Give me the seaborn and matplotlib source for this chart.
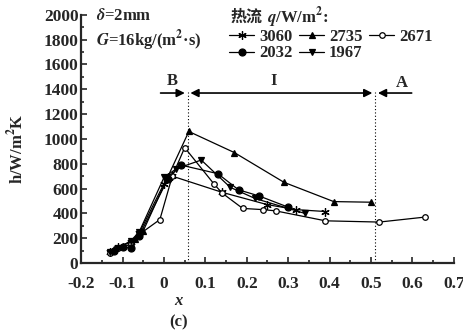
import numpy as np
import pandas as pd
import matplotlib
matplotlib.use("Agg")
import matplotlib.pyplot as plt
import seaborn as sns
from matplotlib.ticker import MultipleLocator

sns.set_style("ticks")
plt.rcParams['font.family'] = ['Liberation Serif', 'Noto Sans CJK SC', 'DejaVu Sans']
plt.rcParams['font.weight'] = 'bold'
plt.rcParams['mathtext.fontset'] = 'stix'

# ---- data ----
x_3060 = [-0.13, -0.11, -0.08, -0.06, 0.00, 0.02, 0.14, 0.25, 0.32, 0.39]
h_3060 = [90, 130, 170, 240, 640, 700, 570, 470, 430, 415]

x_2735 = [-0.12, -0.10, -0.07, -0.05, 0.01, 0.06, 0.17, 0.29, 0.41, 0.50]
h_2735 = [110, 140, 190, 260, 700, 1060, 890, 650, 495, 490]

x_2671 = [-0.13, -0.11, -0.08, -0.06, -0.01, 0.02, 0.05, 0.12, 0.14, 0.19, 0.24, 0.27, 0.39, 0.52, 0.63]
h_2671 = [80, 120, 150, 230, 350, 700, 930, 640, 565, 440, 430, 420, 340, 330, 370]

x_2032 = [-0.12, -0.10, -0.08, -0.06, 0.01, 0.04, 0.13, 0.18, 0.23, 0.30]
h_2032 = [100, 130, 120, 220, 680, 790, 720, 590, 540, 450]

x_1967 = [-0.13, -0.11, -0.08, -0.06, 0.00, 0.03, 0.09, 0.16, 0.22, 0.34]
h_1967 = [90, 120, 180, 250, 690, 760, 830, 610, 520, 400]

series_labels = ["3060", "2735", "2671", "2032", "1967"]
boundary_x = [0.057, 0.51]
x_ticks = [-0.2, -0.1, 0, 0.1, 0.2, 0.3, 0.4, 0.5, 0.6, 0.7]
x_tick_labels = ["-0.2", "-0.1", "0", "0.1", "0.2", "0.3", "0.4", "0.5", "0.6", "0.7"]
y_ticks = list(range(0, 2001, 200))

series = [
    ("3060", x_3060, h_3060, dict(marker=(6, 2, 0), markersize=6, markerfacecolor='black')),
    ("2735", x_2735, h_2735, dict(marker='^', markersize=5, markerfacecolor='black')),
    ("2671", x_2671, h_2671, dict(marker='o', markersize=4, markerfacecolor='white')),
    ("2032", x_2032, h_2032, dict(marker='o', markersize=5, markerfacecolor='black')),
    ("1967", x_1967, h_1967, dict(marker='v', markersize=5, markerfacecolor='black')),
]

fig = plt.figure(figsize=(4.64, 3.30), dpi=100)
ax = fig.add_axes([0.175, 0.203, 0.803, 0.752])

handles = {}
for lab, xs, hs, st in series:
    df = pd.DataFrame({"x": xs, "h": hs})
    sns.lineplot(data=df, x="x", y="h", ax=ax, color='black', linewidth=0.9,
                 sort=False, estimator=None, markeredgecolor='black',
                 markeredgewidth=0.9, label=lab, **st)
    handles[lab] = ax.get_lines()[-1]

ax.set_xlim(-0.2, 0.7)
ax.set_ylim(0, 2000)
ax.set_xticks(x_ticks)
ax.set_xticklabels(x_tick_labels)
ax.set_yticks(y_ticks)
ax.xaxis.set_minor_locator(MultipleLocator(0.05))
ax.yaxis.set_minor_locator(MultipleLocator(100))
ax.tick_params(which='both', direction='in', width=1.2, labelsize=12.5)
ax.tick_params(axis='x', pad=9)
ax.tick_params(axis='y', pad=2)
ax.tick_params(which='major', length=4)
ax.tick_params(which='minor', length=2.5)
for t in ax.get_xticklabels() + ax.get_yticklabels():
    t.set_fontweight('bold')
for s in ['top', 'right']:
    ax.spines[s].set_visible(False)
for s in ['left', 'bottom']:
    ax.spines[s].set_linewidth(1.6)

ax.set_xlabel("")
ax.set_ylabel("")
fig.text(0.385, 0.075, "x", fontsize=12, fontweight='bold', style='italic', ha='center')
fig.text(0.385, 0.012, "(c)", fontsize=12, fontweight='bold', ha='center')
fig.text(0.035, 0.55, "h/W/m$^{\\mathbf{2}}$K", rotation=90, fontsize=12, fontweight='bold',
         ha='center', va='center')

# boundaries and regime arrows
for bx in boundary_x:
    ax.axvline(bx, color='black', linestyle=(0, (1, 2)), linewidth=0.8, ymax=0.69)
ay = 1370
ax.annotate("", xy=(boundary_x[0], ay), xytext=(-0.015, ay),
            arrowprops=dict(arrowstyle='-|>', color='black', lw=1.2, mutation_scale=12))
ax.annotate("", xy=(boundary_x[0], ay), xytext=(boundary_x[1], ay),
            arrowprops=dict(arrowstyle='<|-|>', color='black', lw=1.2, mutation_scale=12))
ax.annotate("", xy=(boundary_x[1], ay), xytext=(0.605, ay),
            arrowprops=dict(arrowstyle='-|>', color='black', lw=1.2, mutation_scale=12))
ax.text(0.02, 1470, "B", fontsize=12, fontweight='bold', ha='center', va='center')
ax.text(0.265, 1470, "I", fontsize=12, fontweight='bold', ha='center', va='center')
ax.text(0.575, 1450, "A", fontsize=12, fontweight='bold', ha='center', va='center')

ax.text(-0.165, 1990, "$\\delta$=2mm", fontsize=12, fontweight='bold', va='center')
ax.text(-0.165, 1790, "$G$=16kg/(m$^{\\mathbf{2}}$·s)", fontsize=12, fontweight='bold', va='center')

# legend title (Chinese part in a CJK font, rest in serif)
t1 = fig.text(0.497, 0.948, "热流", fontsize=11.5, fontweight='bold',
              family=['Noto Sans CJK SC', 'DejaVu Sans'], va='center', ha='left')
ax.annotate(" $q$/W/m$^{\\mathbf{2}}$:", xy=(1.0, 0.5), xycoords=t1,
            fontsize=12, fontweight='bold', va='center', ha='left')

order = ["3060", "2032", "2735", "1967", "2671"]
leg = ax.legend([handles[k] for k in order], order, ncol=3, loc='upper left',
                bbox_to_anchor=(0.37, 0.985), frameon=False,
                prop=dict(weight='bold', size=12), handlelength=1.5,
                handletextpad=0.3, columnspacing=0.4, labelspacing=0.05,
                borderpad=0.1)

fig.savefig("out.png", dpi=100)
